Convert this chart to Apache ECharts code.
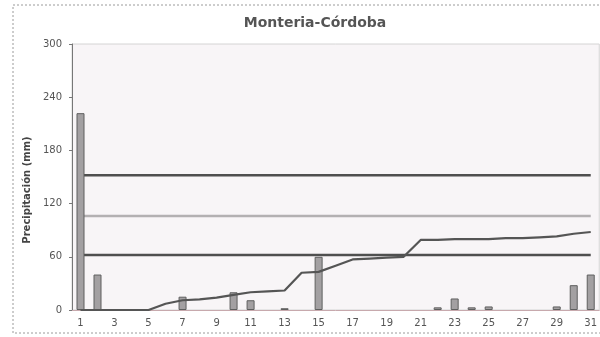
<!DOCTYPE html>
<html>
<head>
<meta charset="utf-8">
<script src="https://cdn.jsdelivr.net/npm/echarts@6/dist/echarts.min.js"></script>
<style>
  html, body { margin: 0; padding: 0; background: #ffffff; }
  #chart { width: 600px; height: 337px; }
</style>
</head>
<body>
<div id="chart"></div>
<script>
// Days of the month
const days = Array.from({ length: 31 }, (_, i) => String(i + 1));

// Daily precipitation (mm)
const dailyRain = [222, 40, 0, 0, 0, 0, 15, 0, 0, 20, 11, 0, 2, 0, 60, 0,
                   0, 0, 0, 0, 0, 3, 13, 3, 4, 0, 0, 0, 4, 28, 40];

// Accumulated curve (mm)
const accumulated = [0, 0, 0, 0, 0, 7, 11, 12, 14, 17, 20, 21, 22, 42, 43, 50,
                     57, 58, 59, 60, 79, 79, 80, 80, 80, 81, 81, 82, 83, 86, 88];

// Reference levels (mm)
const upperLevel = 152;
const meanLevel = 106;
const lowerLevel = 62;

const yTicks = { min: 0, max: 300, step: 60 };

const flat = v => days.map(() => v);
// dry days get no bar at all (avoids a bordered sliver on the baseline)
const barData = dailyRain.map(v => (v === 0 ? null : v));

const chart = echarts.init(document.getElementById('chart'));
chart.setOption({
  animation: false,
  backgroundColor: '#ffffff',
  textStyle: { fontFamily: 'DejaVu Sans, Verdana, sans-serif' },
  title: {
    text: 'Monteria-Córdoba',
    left: 310,
    top: 11,
    textAlign: 'center',
    textStyle: { fontFamily: 'DejaVu Sans', fontSize: 14, fontWeight: 'bold', color: '#555555' }
  },
  graphic: [{
    type: 'rect',
    shape: { x: 13, y: 5, width: 600, height: 328 },
    style: { fill: 'none', stroke: '#9a9a9a', lineWidth: 1, lineDash: [2, 2] },
    z: -1
  }],
  grid: {
    left: 72, top: 44, width: 533, height: 266,
    show: true, backgroundColor: '#f8f5f7', borderColor: '#d4d4d4', borderWidth: 1
  },
  xAxis: {
    type: 'category',
    data: days,
    boundaryGap: true,
    axisLine: { lineStyle: { color: '#c7a9ad', width: 1 } },
    axisTick: { show: false },
    axisLabel: { interval: 1, color: '#555555', fontSize: 10, margin: 8 }
  },
  yAxis: {
    type: 'value',
    min: yTicks.min, max: yTicks.max, interval: yTicks.step,
    name: 'Precipitación (mm)',
    nameLocation: 'middle',
    nameGap: 34,
    nameTextStyle: { fontSize: 10, fontWeight: 'bold', color: '#444444', padding: [0, 26, 0, 0] },
    axisLine: { show: true, lineStyle: { color: '#777777', width: 1 } },
    axisTick: { show: true, length: 3, lineStyle: { color: '#777777' } },
    axisLabel: { color: '#555555', fontSize: 10, margin: 10 },
    splitLine: { show: false }
  },
  series: [
    {
      name: 'Diaria', type: 'bar', data: barData, barWidth: 8,
      itemStyle: { color: '#a3a0a2', borderColor: '#5f5f5f', borderWidth: 1 },
      z: 3
    },
    {
      name: 'Superior', type: 'line', data: flat(upperLevel), symbol: 'none',
      lineStyle: { color: '#4f4f4f', width: 2.5 }, z: 2
    },
    {
      name: 'Media', type: 'line', data: flat(meanLevel), symbol: 'none',
      lineStyle: { color: '#b3b0b2', width: 2.5 }, z: 2
    },
    {
      name: 'Inferior', type: 'line', data: flat(lowerLevel), symbol: 'none',
      lineStyle: { color: '#4f4f4f', width: 2.5 }, z: 2
    },
    {
      name: 'Acumulada', type: 'line', data: accumulated, symbol: 'none',
      lineStyle: { color: '#555555', width: 2.2 }, z: 4
    }
  ]
});
</script>
</body>
</html>
